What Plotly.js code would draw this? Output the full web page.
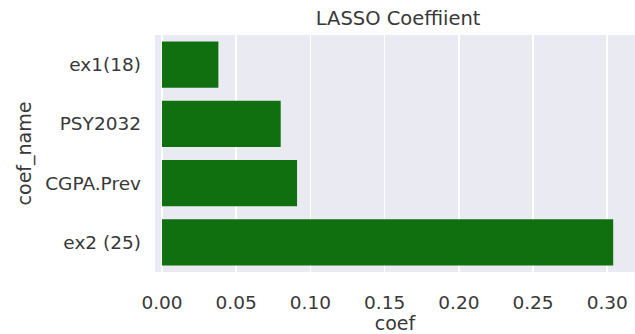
<!DOCTYPE html>
<html>
<head>
<meta charset="utf-8">
<script src="https://cdn.plot.ly/plotly-3.0.1.min.js"></script>
<style>html,body{margin:0;padding:0;background:#fff;}#chart{width:635px;height:334px;}</style>
</head>
<body>
<div id="chart"></div>
<script>
const coefNames = ["ex1(18)", "PSY2032", "CGPA.Prev", "ex2 (25)"];
const coefValues = [0.038, 0.080, 0.091, 0.304];
const xTickVals = [0.00, 0.05, 0.10, 0.15, 0.20, 0.25, 0.30];
const xTickText = ["0.00", "0.05", "0.10", "0.15", "0.20", "0.25", "0.30"];

const textColor = "#383838";
const fontFamily = "DejaVu Sans, sans-serif";

const trace = {
  type: "bar",
  orientation: "h",
  x: coefValues,
  y: coefNames,
  marker: { color: "#107010", line: { width: 0 } },
  hoverinfo: "none"
};

const layout = {
  width: 635,
  height: 334,
  margin: { l: 155, r: 0, t: 35, b: 62, pad: 0 },
  paper_bgcolor: "#ffffff",
  plot_bgcolor: "#EAEAF2",
  showlegend: false,
  bargap: 0.22,
  font: { family: fontFamily, color: textColor, size: 18 },
  title: {
    text: "LASSO Coeffiient",
    font: { family: fontFamily, size: 19.5, color: textColor },
    x: 0.627, xanchor: "center",
    y: 0.945, yanchor: "middle"
  },
  xaxis: {
    range: [-0.0047, 0.3187],
    tickvals: xTickVals,
    ticktext: xTickText,
    showgrid: true,
    gridcolor: "#ffffff",
    gridwidth: 1.5,
    zeroline: false,
    showline: false,
    ticks: "",
    ticklabelstandoff: 17,
    tickfont: { family: fontFamily, size: 18.5, color: textColor },
    automargin: false,
    title: { text: "coef", font: { family: fontFamily, size: 19, color: textColor }, standoff: 5 }
  },
  yaxis: {
    categoryorder: "array",
    categoryarray: coefNames,
    autorange: false,
    range: [3.5, -0.5],
    showgrid: false,
    zeroline: false,
    showline: false,
    ticks: "",
    ticklabelstandoff: 13,
    tickfont: { family: fontFamily, size: 18.5, color: textColor },
    automargin: false,
    title: { text: "coef_name", font: { family: fontFamily, size: 19, color: textColor }, standoff: 8 }
  }
};

Plotly.newPlot("chart", [trace], layout, { staticPlot: true, displayModeBar: false });
</script>
</body>
</html>
